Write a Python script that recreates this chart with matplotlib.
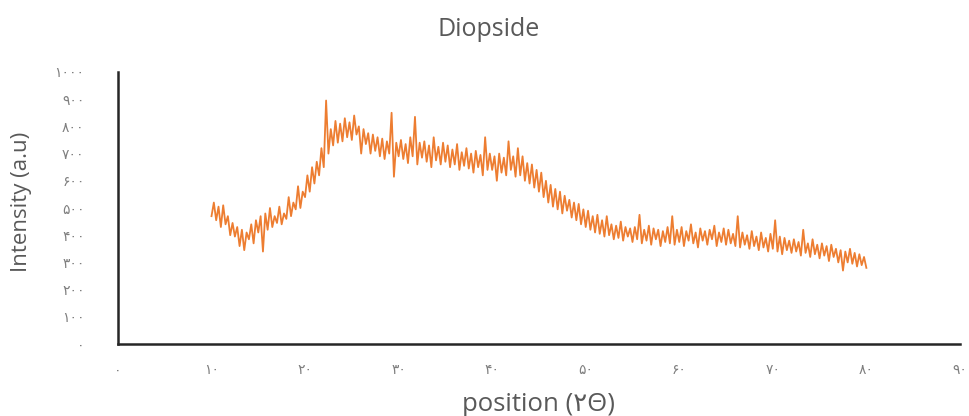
import matplotlib
matplotlib.use('Agg')
import matplotlib.pyplot as plt
import numpy as np

# scan grid: 10 -> 80 deg (2theta), one reading every 0.25 deg
position = np.arange(10, 80.01, 0.25)

# intensity, 20 readings per 5 degrees
intensity = [
    470, 520, 455, 505, 430, 510, 440, 470, 400, 445, 395, 430, 360, 420, 345, 410, 385, 440, 370, 455,  # 10-15
    410, 470, 340, 480, 420, 500, 430, 470, 445, 505, 440, 480, 460, 540, 470, 520, 495, 580, 500, 560,  # 15-20
    540, 620, 560, 650, 590, 670, 620, 720, 650, 895, 700, 790, 730, 820, 740, 810, 745, 830, 760, 815,  # 20-25
    750, 840, 770, 800, 700, 790, 735, 775, 700, 770, 710, 760, 690, 755, 680, 745, 700, 850, 615, 740,  # 25-30
    690, 750, 680, 735, 665, 760, 690, 835, 660, 740, 685, 745, 670, 730, 650, 760, 675, 725, 660, 740,  # 30-35
    670, 730, 650, 715, 660, 735, 640, 705, 655, 720, 645, 700, 630, 710, 650, 695, 620, 760, 640, 700,  # 35-40
    640, 690, 600, 700, 630, 685, 620, 745, 640, 690, 615, 720, 620, 690, 600, 665, 590, 660, 575, 640,  # 40-45
    560, 630, 540, 600, 520, 585, 505, 570, 495, 560, 480, 545, 490, 530, 465, 520, 455, 515, 440, 495,  # 45-50
    430, 490, 420, 470, 410, 475, 405, 455, 395, 470, 400, 440, 385, 435, 390, 450, 380, 430, 395, 425,  # 50-55
    375, 430, 385, 475, 370, 420, 380, 435, 365, 425, 385, 420, 360, 415, 375, 430, 370, 470, 365, 420,  # 55-60
    375, 430, 360, 415, 380, 440, 370, 410, 355, 425, 380, 415, 365, 420, 385, 435, 360, 410, 375, 425,  # 60-65
    365, 420, 370, 405, 360, 470, 355, 410, 365, 400, 350, 415, 360, 395, 345, 410, 355, 390, 340, 405,  # 65-70
    350, 455, 340, 395, 330, 390, 345, 380, 335, 385, 340, 375, 325, 420, 335, 370, 320, 385, 330, 365,  # 70-75
    315, 370, 325, 360, 305, 365, 320, 350, 300, 345, 270, 340, 300, 350, 295, 335, 285, 330, 290, 320,  # 75-80
    280,
]

persian = str.maketrans('0123456789', '۰۱۲۳۴۵۶۷۸۹')
x_ticks = list(range(0, 91, 10))
y_ticks = list(range(0, 1001, 100))
x_ticklabels = [str(v).translate(persian) for v in x_ticks]
y_ticklabels = [str(v).translate(persian) for v in y_ticks]

plt.rcParams['font.family'] = ['Open Sans', 'DejaVu Sans']
grey = '#595959'

fig = plt.figure(figsize=(9.7, 4.16), dpi=100)
ax = fig.add_axes([0.1216, 0.173, 0.868, 0.654])

ax.plot(position, intensity, color='#ED7D31', linewidth=1.3)

ax.set_xlim(0, 90)
ax.set_ylim(0, 1000)
ax.set_xticks(x_ticks)
ax.set_xticklabels(x_ticklabels)
ax.set_yticks(y_ticks)
ax.set_yticklabels(y_ticklabels)
ax.tick_params(length=0, labelsize=10, labelcolor='#7f7f7f')
ax.tick_params(axis='y', pad=24)
ax.tick_params(axis='x', pad=14)

for s in ['top', 'right']:
    ax.spines[s].set_visible(False)
for s in ['left', 'bottom']:
    ax.spines[s].set_linewidth(1.8)
    ax.spines[s].set_color('#262626')

ax.set_title('Diopside', fontsize=18, color=grey, x=0.44, y=1.132, pad=0)
ax.set_xlabel('position (۲Θ)', fontsize=18.5, color=grey)
ax.set_ylabel('Intensity (a.u)', fontsize=16, color=grey)
ax.xaxis.set_label_coords(0.5, -0.175)
ax.yaxis.set_label_coords(-0.102, 0.522)

fig.savefig('out.png', dpi=100)
